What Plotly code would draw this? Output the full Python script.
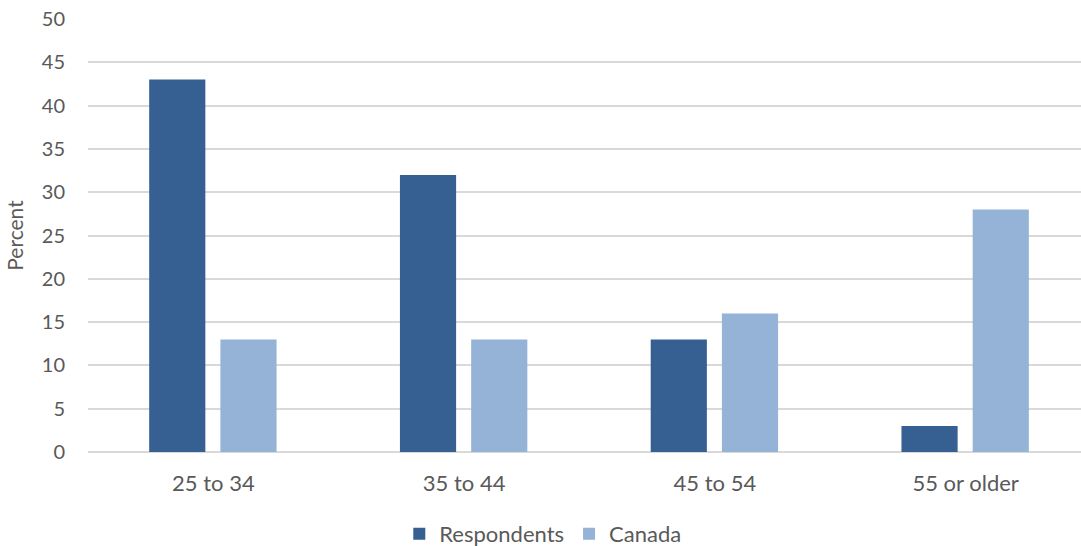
import plotly.graph_objects as go

categories = ["25 to 34", "35 to 44", "45 to 54", "55 or older"]
respondents = [43, 32, 13, 3]
canada = [13, 13, 16, 28]
y_ticks = [0, 5, 10, 15, 20, 25, 30, 35, 40, 45, 50]

FONT = "Lato"
GRAY = "#595959"
FS = 22

fig = go.Figure()
fig.add_trace(go.Bar(x=categories, y=respondents, name="Respondents",
                     marker=dict(color="#366092", line=dict(width=0)),
                     width=0.224, offset=-0.256))
fig.add_trace(go.Bar(x=categories, y=canada, name="Canada",
                     marker=dict(color="#95B3D7", line=dict(width=0)),
                     width=0.224, offset=0.028))

fig.update_layout(
    width=1081, height=546,
    margin=dict(l=88, r=0, t=19, b=94, autoexpand=False),
    plot_bgcolor="white", paper_bgcolor="white",
    barmode="overlay",
    font=dict(family=FONT, size=FS, color=GRAY),
    showlegend=True,
    legend=dict(orientation="h", x=0.458, xanchor="center", y=-0.189, yanchor="middle",
                font=dict(size=FS, color=GRAY), itemwidth=30, traceorder="normal"),
    xaxis=dict(showgrid=False, showline=False, ticks="", ticklabelstandoff=16,
               range=[-0.5, 3.46], tickfont=dict(size=FS, color=GRAY)),
    yaxis=dict(range=[0, 50], tickvals=y_ticks, showgrid=True, gridcolor="#d9d9d9",
               gridwidth=1.5, zeroline=True, zerolinecolor="#d9d9d9", zerolinewidth=1.5,
               showline=False, ticks="", ticklen=0, ticklabelstandoff=22,
               tickfont=dict(size=20, color=GRAY),
               title=dict(text="Percent", font=dict(size=21, color=GRAY), standoff=12)),
)

fig.write_html(
    "out.html",
    config={"displayModeBar": False},
    post_script="document.body.style.margin='0';document.body.style.overflow='hidden';",
)
